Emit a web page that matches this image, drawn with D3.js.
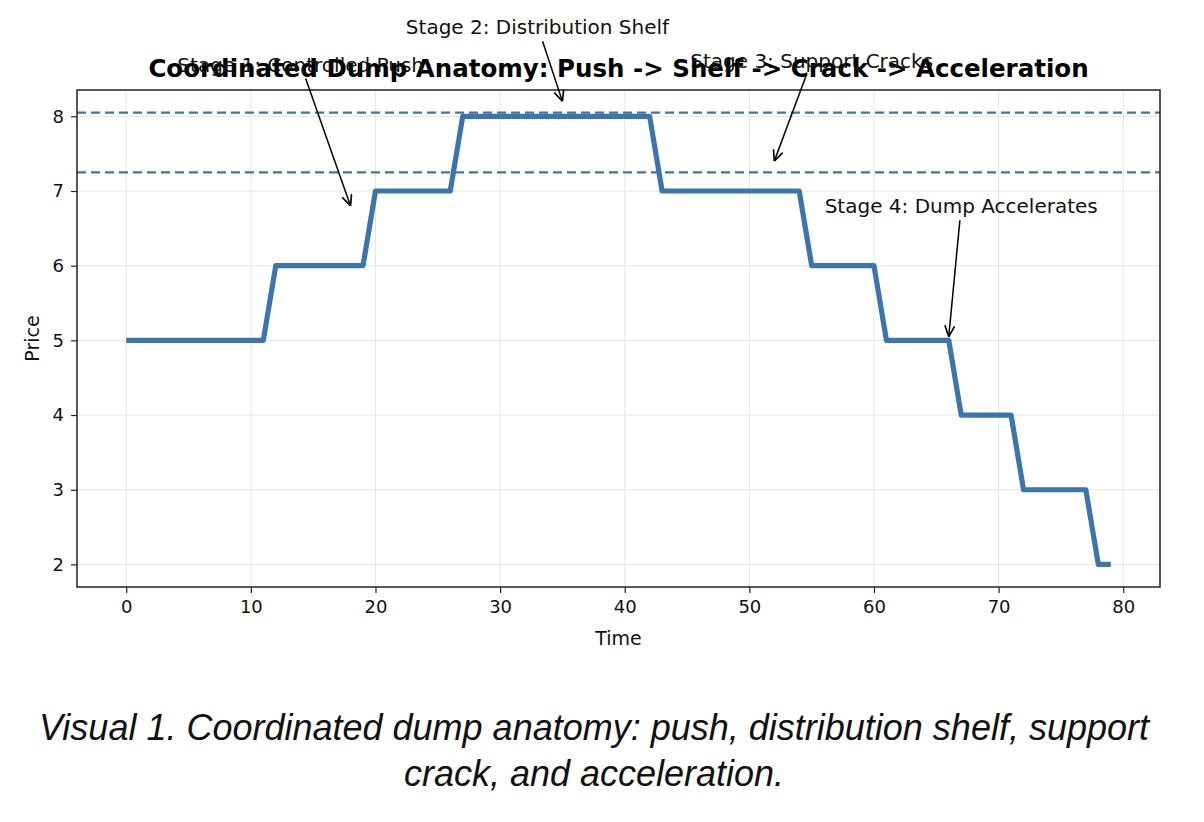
<!DOCTYPE html>
<html>
<head>
<meta charset="utf-8">
<script src="https://cdn.jsdelivr.net/npm/d3@7"></script>
<style>
  body { margin: 0; background: #fff; }
  svg { display: block; }
</style>
</head>
<body>
<svg id="chart" width="1204" height="822"></svg>
<script>
// price per time step (0..79)
const prices = [
  5, 5, 5, 5, 5, 5, 5, 5, 5, 5, 5, 5,
  6, 6, 6, 6, 6, 6, 6, 6,
  7, 7, 7, 7, 7, 7, 7,
  8, 8, 8, 8, 8, 8, 8, 8, 8, 8, 8, 8, 8, 8, 8, 8,
  7, 7, 7, 7, 7, 7, 7, 7, 7, 7, 7, 7,
  6, 6, 6, 6, 6, 6,
  5, 5, 5, 5, 5, 5,
  4, 4, 4, 4, 4,
  3, 3, 3, 3, 3, 3,
  2, 2
];
const levels = [8.05, 7.25];
const xTicks = [0, 10, 20, 30, 40, 50, 60, 70, 80];
const yTicks = [2, 3, 4, 5, 6, 7, 8];
const annotations = [
  { label: 'Stage 1: Controlled Push', tx: 14, ty: 8.6, ax: 18, ay: 6.8 },
  { label: 'Stage 2: Distribution Shelf', tx: 33, ty: 9.1, ax: 35, ay: 8.2 },
  { label: 'Stage 3: Support Cracks', tx: 55, ty: 8.65, ax: 52, ay: 7.4 },
  { label: 'Stage 4: Dump Accelerates', tx: 67, ty: 6.7, ax: 66, ay: 5.05 }
];
const title = 'Coordinated Dump Anatomy: Push -> Shelf -> Crack -> Acceleration';
const captionLines = [
  'Visual 1. Coordinated dump anatomy: push, distribution shelf, support',
  'crack, and acceleration.'
];

const color = '#3c74ad';
const margin = { left: 77, right: 44, top: 90, bottom: 235 };
const W = 1204, H = 822;
const width = W - margin.left - margin.right;
const height = H - margin.top - margin.bottom;

const svg = d3.select('#chart');
const g = svg.append('g').attr('transform', `translate(${margin.left},${margin.top})`);

const x = d3.scaleLinear().domain([-3.95, 82.95]).range([0, width]);
const y = d3.scaleLinear().domain([1.6975, 8.3525]).range([height, 0]);

// grid
g.append('g').selectAll('line').data(xTicks).join('line')
  .attr('x1', d => x(d)).attr('x2', d => x(d))
  .attr('y1', 0).attr('y2', height)
  .attr('stroke', '#e6e6e6').attr('stroke-width', 1);
g.append('g').selectAll('line').data(yTicks).join('line')
  .attr('x1', 0).attr('x2', width)
  .attr('y1', d => y(d)).attr('y2', d => y(d))
  .attr('stroke', '#e6e6e6').attr('stroke-width', 1);

// support / resistance levels
g.append('g').selectAll('line').data(levels).join('line')
  .attr('x1', 0).attr('x2', width)
  .attr('y1', d => y(d)).attr('y2', d => y(d))
  .attr('stroke', color).attr('stroke-width', 2.4)
  .attr('stroke-dasharray', '9,5');

// price line
const line = d3.line().x((d, i) => x(i)).y(d => y(d));
g.append('path')
  .datum(prices)
  .attr('fill', 'none')
  .attr('stroke', color)
  .attr('stroke-width', 5.2)
  .attr('stroke-linejoin', 'round')
  .attr('d', line);

// axes
const xAxis = g.append('g')
  .attr('transform', `translate(0,${height})`)
  .call(d3.axisBottom(x).tickValues(xTicks).tickFormat(d3.format('d')).tickSize(6).tickPadding(7));
const yAxis = g.append('g')
  .call(d3.axisLeft(y).tickValues(yTicks).tickFormat(d3.format('d')).tickSize(6).tickPadding(7));
[xAxis, yAxis].forEach(a => {
  a.select('.domain').remove();
  a.selectAll('text').attr('font-family', 'DejaVu Sans').attr('font-size', 18).attr('fill', '#111');
  a.selectAll('line').attr('stroke', '#222').attr('stroke-width', 1.2);
});

// frame
g.append('rect')
  .attr('width', width).attr('height', height)
  .attr('fill', 'none').attr('stroke', '#222').attr('stroke-width', 1.5);

// axis labels
g.append('text')
  .attr('x', width / 2).attr('y', height + 58)
  .attr('text-anchor', 'middle')
  .attr('font-family', 'DejaVu Sans').attr('font-size', 19).attr('fill', '#111')
  .text('Time');
g.append('text')
  .attr('transform', `translate(-38,${height / 2}) rotate(-90)`)
  .attr('text-anchor', 'middle')
  .attr('font-family', 'DejaVu Sans').attr('font-size', 19).attr('fill', '#111')
  .text('Price');

// title
g.append('text')
  .attr('x', width / 2).attr('y', -13)
  .attr('text-anchor', 'middle')
  .attr('font-family', 'DejaVu Sans').attr('font-weight', 'bold').attr('font-size', 24.5).attr('fill', '#000')
  .text(title);

// annotations
svg.append('defs').append('marker')
  .attr('id', 'arrow')
  .attr('viewBox', '0 0 10 10')
  .attr('refX', 10).attr('refY', 5)
  .attr('markerWidth', 11).attr('markerHeight', 11)
  .attr('markerUnits', 'userSpaceOnUse')
  .attr('orient', 'auto')
  .append('path')
  .attr('d', 'M0,0.5 L10,5 L0,9.5')
  .attr('fill', 'none').attr('stroke', '#000').attr('stroke-width', 1.5);

const ann = g.append('g');
annotations.forEach(a => {
  const tx = x(a.tx), ty = y(a.ty);
  const ax = x(a.ax), ay = y(a.ay);
  const txt = ann.append('text')
    .attr('x', tx).attr('y', ty)
    .attr('text-anchor', 'middle')
    .attr('font-family', 'DejaVu Sans').attr('font-size', 20).attr('fill', '#111')
    .text(a.label);
  // start the arrow at the edge of the text box, like matplotlib does
  const bb = txt.node().getBBox();
  const cx = bb.x + bb.width / 2, cy = bb.y + bb.height / 2;
  const hw = bb.width / 2 + 2, hh = bb.height / 2 + 2;
  const dx = ax - cx, dy = ay - cy;
  const t = Math.min(Math.abs(hw / (dx || 1e-9)), Math.abs(hh / (dy || 1e-9)));
  ann.insert('line', 'text')
    .attr('x1', cx + dx * t).attr('y1', cy + dy * t)
    .attr('x2', ax).attr('y2', ay)
    .attr('stroke', '#000').attr('stroke-width', 1.5)
    .attr('marker-end', 'url(#arrow)');
});

// caption
svg.append('g').selectAll('text').data(captionLines).join('text')
  .attr('x', 594)
  .attr('y', (d, i) => 740 + i * 46)
  .attr('text-anchor', 'middle')
  .attr('font-family', 'Liberation Sans, Arial, sans-serif')
  .attr('font-style', 'italic')
  .attr('font-size', 36)
  .attr('fill', '#111')
  .text(d => d);
</script>
</body>
</html>
